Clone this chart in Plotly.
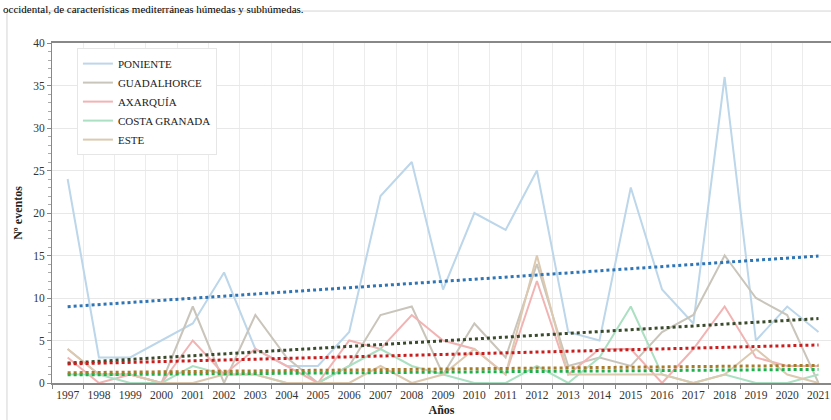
import numpy as np
import plotly.graph_objects as go

years = [str(y) for y in range(1997, 2022)]

poniente = [24, 3, 3, 5, 7, 13, 4, 2, 2, 6, 22, 26, 11, 20, 18, 25, 6, 5, 23, 11, 7, 36, 5, 9, 6]
guadalhorce = [4, 1, 1, 0, 9, 0, 8, 3, 0, 2, 8, 9, 1, 7, 3, 14, 2, 3, 2, 6, 8, 15, 10, 8, 0]
axarquia = [3, 0, 1, 0, 5, 1, 4, 2, 0, 5, 4, 8, 5, 4, 1, 12, 1, 4, 4, 0, 4, 9, 3, 2, 2]
costa_granada = [1, 1, 0, 0, 2, 1, 1, 0, 0, 2, 4, 2, 1, 0, 0, 2, 0, 3, 9, 1, 0, 1, 0, 0, 1]
este = [4, 1, 1, 0, 0, 1, 1, 0, 0, 0, 2, 0, 1, 4, 1, 15, 1, 1, 1, 1, 0, 1, 4, 1, 0]

series = [
    ("PONIENTE", poniente, "#bcd6ea", "#2e75b6"),
    ("GUADALHORCE", guadalhorce, "#c9c5bb", "#3a4a2c"),
    ("AXARQUÍA", axarquia, "#f2b3b3", "#c81e1e"),
    ("COSTA GRANADA", costa_granada, "#ace0c2", "#1fb04c"),
    ("ESTE", este, "#dcc9b0", "#a87a2c"),
]

serif = "Liberation Serif, Times New Roman, serif"
fig = go.Figure()

for name, vals, col, _ in series:
    fig.add_trace(go.Scatter(x=years, y=vals, mode="lines", name=name,
                             line=dict(color=col, width=2)))

idx = np.arange(len(years))
for name, vals, _, tcol in series:
    k, b = np.polyfit(idx, np.array(vals, dtype=float), 1)
    fig.add_trace(go.Scatter(x=years, y=k * idx + b, mode="lines", showlegend=False,
                             hoverinfo="skip",
                             line=dict(color=tcol, width=3, dash="dot")))

fig.add_annotation(text="occidental, de características mediterráneas húmedas y subhúmedas.",
                   xref="paper", yref="paper", x=-0.066, y=(382.7 - 1) / 339.7,
                   xanchor="left", yanchor="top", showarrow=False,
                   font=dict(family=serif, size=11, color="#000"))

fig.add_shape(type="rect", xref="paper", yref="paper",
              x0=-0.0578, x1=1.02, y0=-0.2, y1=1.094,
              line=dict(color="#d4d4d4", width=1), layer="below")

fig.update_layout(
    width=831, height=420,
    margin=dict(l=52, r=0, t=43, b=37),
    paper_bgcolor="white", plot_bgcolor="white",
    font=dict(family=serif, size=11.5, color="#333"),
    showlegend=True,
    legend=dict(x=0.032, y=0.985, xanchor="left", yanchor="top",
                bgcolor="white", bordercolor="#e6e6e6", borderwidth=1,
                font=dict(family=serif, size=11, color="#222"),
                itemwidth=30, tracegroupgap=0,
                entrywidth=120, entrywidthmode="pixels"),
    xaxis=dict(type="category", range=[-0.5, 24.4], tickson="boundaries",
               tickangle=0,
               ticks="outside", ticklen=4, tickcolor="#888",
               showgrid=True, gridcolor="#ececec", gridwidth=1,
               showline=True, linecolor="#888", linewidth=1.5, mirror=True,
               title=dict(text="<b>Años</b>", font=dict(family=serif, size=12, color="#222"), standoff=6),
               tickfont=dict(family=serif, size=11.5, color="#333")),
    yaxis=dict(range=[0, 40], dtick=5, ticks="outside", ticklen=4, tickcolor="#888",
               showgrid=True, gridcolor="#e8e8e8", gridwidth=1,
               showline=True, linecolor="#888", linewidth=1,
               minor=dict(dtick=1, ticks="outside", ticklen=3, tickcolor="#aaa", showgrid=False),
               zeroline=False,
               title=dict(text="<b>Nº eventos</b>", font=dict(family=serif, size=12, color="#222"), standoff=8),
               tickfont=dict(family=serif, size=11.5, color="#333")),
)

fig.write_html("out.html", config={"displayModeBar": False},
               post_script="document.body.style.margin='0';")
